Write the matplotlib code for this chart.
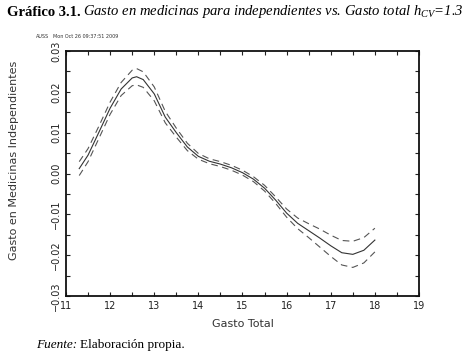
import matplotlib
matplotlib.use("Agg")
import matplotlib.pyplot as plt
from matplotlib.ticker import MultipleLocator, FuncFormatter

# gasto total (log) vs gasto en medicinas, with confidence band
gasto_total = [11.3, 11.5, 11.75, 12.0, 12.25, 12.5, 12.6, 12.75, 13.0, 13.25,
               13.5, 13.75, 14.0, 14.25, 14.5, 14.75, 15.0, 15.25, 15.5, 15.75,
               16.0, 16.25, 16.5, 16.75, 17.0, 17.25, 17.5, 17.75, 18.0]
estimacion = [0.0012, 0.0045, 0.0102, 0.0160, 0.0207, 0.0234, 0.0237, 0.0230, 0.0195, 0.0138,
              0.0100, 0.0065, 0.0042, 0.0030, 0.0023, 0.0014, 0.0002, -0.0014, -0.0036, -0.0065,
              -0.0097, -0.0122, -0.0140, -0.0158, -0.0177, -0.0194, -0.0198, -0.0188, -0.0163]
banda_sup = [0.0029, 0.0061, 0.0117, 0.0175, 0.0223, 0.0253, 0.0257, 0.0249, 0.0212, 0.0152,
             0.0111, 0.0074, 0.0049, 0.0036, 0.0029, 0.0020, 0.0008, -0.0008, -0.0029, -0.0057,
             -0.0087, -0.0109, -0.0123, -0.0136, -0.0151, -0.0164, -0.0166, -0.0157, -0.0134]
banda_inf = [-0.0005, 0.0029, 0.0087, 0.0145, 0.0191, 0.0215, 0.0217, 0.0211, 0.0178, 0.0124,
             0.0089, 0.0056, 0.0035, 0.0024, 0.0017, 0.0008, -0.0004, -0.0020, -0.0043, -0.0073,
             -0.0107, -0.0135, -0.0157, -0.0180, -0.0203, -0.0224, -0.0230, -0.0219, -0.0192]

fig = plt.figure(figsize=(4.68, 3.56), dpi=100)
ax = fig.add_axes([66 / 468, 1 - 296 / 356, 353 / 468, 245 / 356])

ax.plot(gasto_total, estimacion, color="#333333", lw=0.8)
ax.plot(gasto_total, banda_sup, color="#555555", lw=0.8, dashes=(6, 4))
ax.plot(gasto_total, banda_inf, color="#555555", lw=0.8, dashes=(6, 4))

ax.set_xlim(11, 19)
ax.set_ylim(-0.03, 0.03)
ax.xaxis.set_major_locator(MultipleLocator(1))
ax.xaxis.set_minor_locator(MultipleLocator(0.5))
ax.yaxis.set_major_locator(MultipleLocator(0.01))
ax.yaxis.set_minor_locator(MultipleLocator(0.005))
ax.yaxis.set_major_formatter(FuncFormatter(lambda v, p: f"{v:.2f}".replace("-", "\u2212")))
ax.tick_params(which="both", direction="in", top=True, right=True,
               length=3, width=0.8, labelsize=7, colors="#222222")
ax.tick_params(axis="y", labelrotation=90)
for lab in ax.get_yticklabels():
    lab.set_va("center")
for s in ax.spines.values():
    s.set_linewidth(1.3)
    s.set_color("#111111")

ax.set_xlabel("Gasto Total", fontsize=8, color="#333333", labelpad=6)
fig.text(14 / 468, 1 - 160 / 356, "Gasto en Medicinas Independientes", rotation=90,
         fontsize=8, color="#333333", ha="center", va="center")

fig.text(36 / 468, 1 - 37 / 356, "AUSS", fontsize=3.5, color="#333333", va="center")
fig.text(53 / 468, 1 - 37 / 356, "Mon Oct 26 09:37:51 2009", fontsize=3.5,
         color="#333333", va="center")

plt.rcParams["mathtext.fontset"] = "custom"
plt.rcParams["mathtext.it"] = "Liberation Serif:italic"
plt.rcParams["mathtext.rm"] = "Liberation Serif"
fig.text(7 / 468, 1 - 12 / 356, "Gráfico 3.1.", fontsize=10.5, fontweight="bold",
         family="Liberation Serif", va="center")
fig.text(83 / 468, 1 - 12 / 356,
         r"Gasto en medicinas para independientes vs. Gasto total $h_{CV}$=1.3",
         fontsize=10.5, style="italic", family="Liberation Serif", va="center")

fig.text(36 / 468, 1 - 345 / 356, "Fuente:", fontsize=9.5, style="italic",
         family="Liberation Serif", va="center")
fig.text(80 / 468, 1 - 345 / 356, "Elaboración propia.", fontsize=9.5,
         family="Liberation Serif", va="center")

fig.savefig("out.png", dpi=100)
